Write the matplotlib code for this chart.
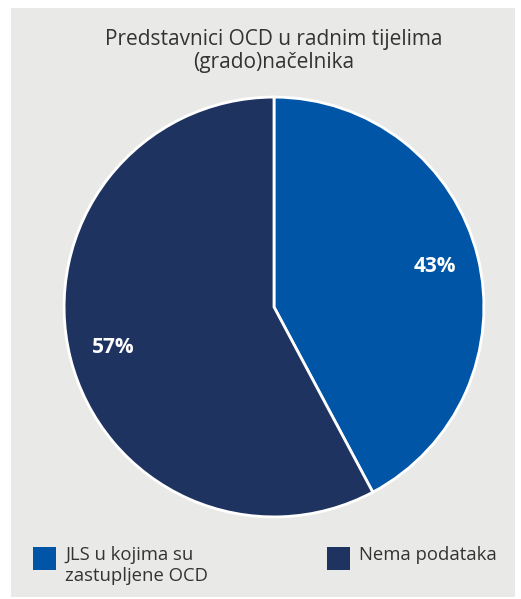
import matplotlib.pyplot as plt
from matplotlib.patches import Rectangle

# podaci
kategorije = ['JLS u kojima su\nzastupljene OCD', 'Nema podataka']
udjeli = [42.2, 57.8]          # procijenjeno iz geometrije isječaka
oznake = ['43%', '57%']        # oznake kako su ispisane na grafu
boje = ['#0055a6', '#1f3361']
naslov = 'Predstavnici OCD u radnim tijelima\n(grado)načelnika'

plt.rcParams['font.family'] = ['Open Sans', 'DejaVu Sans']

W, H = 521, 599
fig = plt.figure(figsize=(W / 100, H / 100), dpi=100)
fig.patch.set_facecolor('white')

# sivi okvir (ispod osi)
fig.patches.append(Rectangle((11 / W, 2 / H), 504 / W, (H - 8 - 2) / H,
                             transform=fig.transFigure, facecolor='#e9eae8',
                             edgecolor='none', zorder=-5))

fig.text(274 / W, 1 - 51 / H, naslov, ha='center', va='center',
         fontsize=15, color='#333333', linespacing=1.15)

ax = fig.add_axes([62 / W, 80 / H, 424 / W, 424 / H])
ax.set_facecolor('none')
wedges, texts, autotexts = ax.pie(
    udjeli, colors=boje, startangle=90, counterclock=False,
    autopct='%d%%', pctdistance=0.79,
    wedgeprops=dict(edgecolor='white', linewidth=2),
    textprops=dict(color='white', fontsize=15, fontweight='bold'))
for t, o in zip(autotexts, oznake):
    t.set_text(o)
ax.set_xlim(-1.01, 1.01)
ax.set_ylim(-1.01, 1.01)
ax.set_aspect('equal')

# legenda
leg_x = [33, 327]
for i, (k, b) in enumerate(zip(kategorije, boje)):
    fig.patches.append(Rectangle((leg_x[i] / W, 1 - 570 / H), 23 / W, 23 / H,
                                 transform=fig.transFigure, facecolor=b,
                                 edgecolor='none'))
    fig.text((leg_x[i] + 32) / W, 1 - 546 / H, k, ha='left', va='top',
             fontsize=13.3, color='#333333', linespacing=1.2)

fig.savefig('out.png', dpi=100)
